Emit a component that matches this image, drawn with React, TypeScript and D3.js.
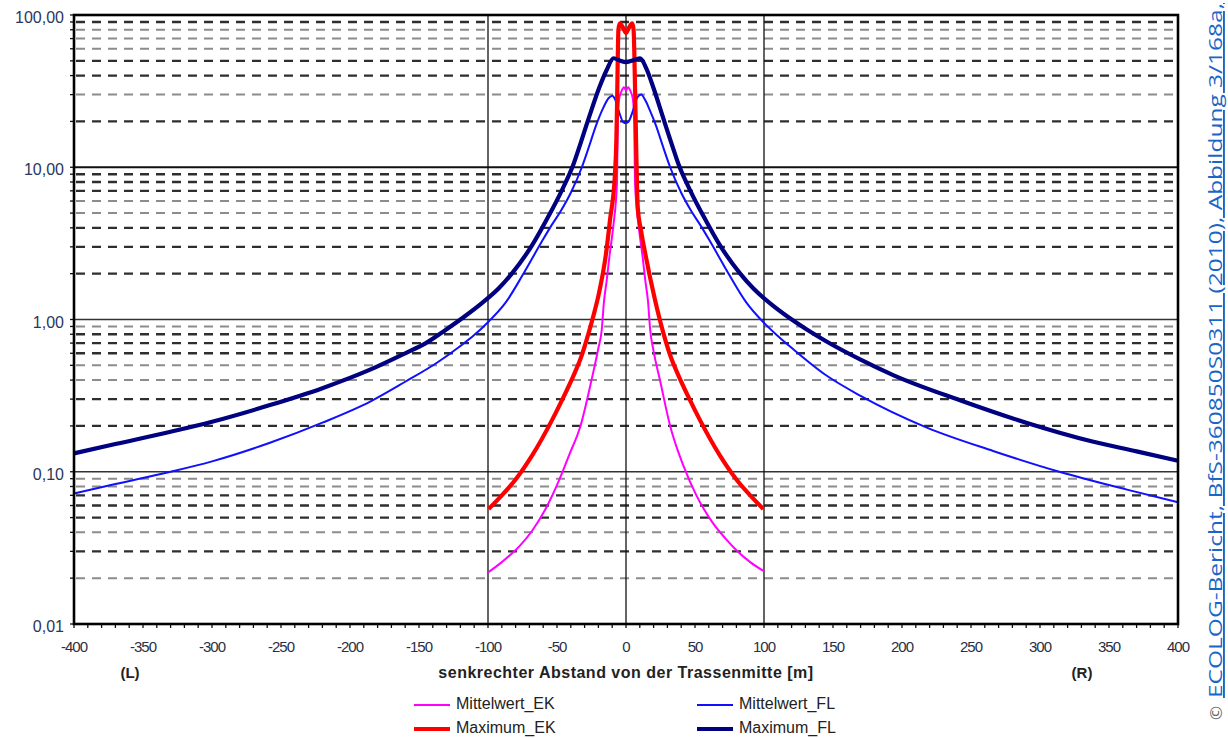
// log chart of field strength vs distance from the line axis
import { useEffect, useRef } from 'react';
import * as d3 from 'd3';

// distances [m] and values for each series
const mwFlX = [-400, -370, -330, -300, -258, -220, -185, -160, -137, -120, -110, -100, -87, -75, -61, -54, -47.6, -40, -32, -27, -22, -17, -12.5, -10, -8, -5, -2, 0, 2, 5, 8, 11, 14, 17, 22, 27, 32, 40, 47.6, 54, 61, 75, 87, 100, 110, 121, 145, 170, 218, 266, 314, 363, 400];
const mwFlY = [0.072, 0.083, 0.1, 0.117, 0.155, 0.21, 0.29, 0.39, 0.52, 0.67, 0.79, 0.96, 1.3, 1.95, 3.25, 4.15, 5.1, 6.8, 10, 13.5, 18.5, 24, 28.5, 29.5, 28, 23, 19.8, 19.5, 20, 23.5, 28.5, 30, 27.5, 24, 18.5, 13.5, 10, 6.8, 5.1, 4.15, 3.25, 1.95, 1.3, 0.95, 0.78, 0.64, 0.43, 0.315, 0.195, 0.137, 0.1, 0.0763, 0.063];

const maxFlX = [-400, -370, -330, -300, -258, -220, -185, -160, -145, -131, -118, -104, -92, -82.6, -68, -56, -47, -38, -33, -27, -19, -14, -9, -4, 0, 4, 10, 15, 20, 27, 33, 38, 47, 56, 68, 82.6, 92, 104, 118, 131, 145, 170, 194, 242, 290, 338, 370, 400];
const maxFlY = [0.132, 0.152, 0.183, 0.213, 0.274, 0.354, 0.47, 0.6, 0.7, 0.85, 1.03, 1.29, 1.61, 2.01, 3.08, 4.8, 6.9, 10.5, 14.3, 21, 34, 43.5, 52, 50, 49, 50, 52, 44, 33, 21, 14.3, 10.5, 6.9, 4.8, 3.08, 2.01, 1.61, 1.285, 1.03, 0.86, 0.72, 0.545, 0.43, 0.295, 0.21, 0.158, 0.136, 0.118];

const mwEkX = [-100, -90, -77, -68, -58.7, -48, -41, -33, -25, -20, -17.6, -16, -14, -12, -9.2, -6.5, -6, -5, -3, -1.5, 0, 1.5, 3, 5, 6, 6.5, 9.2, 12, 14, 16, 17.5, 20, 24.6, 32, 41.5, 51, 63, 72, 80, 90, 100];
const mwEkY = [0.0218, 0.0255, 0.0326, 0.041, 0.056, 0.09, 0.13, 0.2, 0.4, 0.65, 0.85, 1.3, 1.8, 2.6, 4.1, 8, 19, 28, 32, 33.5, 32, 33.5, 32, 28, 19, 8, 4.1, 2.6, 1.8, 1.3, 0.86, 0.62, 0.4, 0.2, 0.11, 0.07, 0.046, 0.0365, 0.0305, 0.0255, 0.0222];

const maxEkX = [-99.5, -90, -80, -68, -54, -46, -37, -33, -27, -23.7, -19.5, -14.5, -11.6, -8, -7, -6.5, -6, -5.5, -4.5, -2, 0, 2, 4.5, 5.5, 6.5, 7.5, 8.5, 11, 14, 21, 27, 33, 37, 46, 54, 68, 80, 90, 99.5];
const maxEkY = [0.057, 0.07, 0.089, 0.128, 0.215, 0.3, 0.45, 0.55, 0.82, 1.05, 1.5, 2.7, 4.5, 9, 15, 25, 50, 80, 88, 82, 76, 82, 88, 80, 35, 12, 5.5, 3.8, 2.7, 1.35, 0.82, 0.55, 0.45, 0.3, 0.215, 0.128, 0.089, 0.07, 0.057];

const yMajor = [0.01, 0.1, 1, 10, 100];
const yLabels = ['0,01', '0,10', '1,00', '10,00', '100,00'];
const xLabels = [-400, -350, -300, -250, -200, -150, -100, -50, 0, 50, 100, 150, 200, 250, 300, 350, 400];
const xMajorGrid = [-100, 0, 100];
// dark (d) or grey (g) dashes for the minor lines 2..9 of each decade
const minorTone = ['gdgdddgg', 'ddggdddg', 'dddggddd', 'dgddgggd'];

const series = [
  { name: 'Mittelwert_EK', xs: mwEkX, ys: mwEkY, color: '#ff00ff', width: 2 },
  { name: 'Mittelwert_FL', xs: mwFlX, ys: mwFlY, color: '#1010ff', width: 2 },
  { name: 'Maximum_EK', xs: maxEkX, ys: maxEkY, color: '#ff0000', width: 4.2 },
  { name: 'Maximum_FL', xs: maxFlX, ys: maxFlY, color: '#000080', width: 4.2 },
];

const font = 'Liberation Sans, Arial, sans-serif';

function App() {
  const ref = useRef<SVGSVGElement | null>(null);

  useEffect(() => {
    const svg = d3.select(ref.current);
    svg.selectAll('*').remove();

    const x = d3.scaleLinear().domain([-400, 400]).range([74, 1178]);
    const y = d3.scaleLog().domain([0.01, 100]).range([624, 15]);
    const [x0, x1] = x.range();

    // minor dashed grid
    const minors: { v: number; tone: string }[] = [];
    yMajor.slice(0, 4).forEach((dec, i) => {
      for (let m = 2; m <= 9; m++) minors.push({ v: dec * m, tone: minorTone[i][m - 2] });
    });
    svg.append('g').selectAll('line').data(minors).enter().append('line')
      .attr('x1', x0 + 2).attr('x2', x1 - 2)
      .attr('y1', d => y(d.v)).attr('y2', d => y(d.v))
      .attr('stroke', d => d.tone === 'd' ? '#2e2e2e' : '#8c8c8c')
      .attr('stroke-width', d => d.tone === 'd' ? 2.4 : 2)
      .attr('stroke-dasharray', '9,7');

    // major grid
    svg.append('g').selectAll('line').data(yMajor.slice(1, 4)).enter().append('line')
      .attr('x1', x0).attr('x2', x1)
      .attr('y1', d => y(d)).attr('y2', d => y(d))
      .attr('stroke', d => d === 10 ? '#111' : '#333')
      .attr('stroke-width', d => d === 10 ? 2.2 : 1.6);
    svg.append('g').selectAll('line').data(xMajorGrid).enter().append('line')
      .attr('x1', d => x(d)).attr('x2', d => x(d))
      .attr('y1', y(100)).attr('y2', y(0.01))
      .attr('stroke', '#111').attr('stroke-width', 1.3);

    // ticks
    const yTicks = minors.map(d => d.v).concat(yMajor);
    svg.append('g').selectAll('line').data(yTicks).enter().append('line')
      .attr('x1', x0 - 4).attr('x2', x0)
      .attr('y1', d => y(d)).attr('y2', d => y(d))
      .attr('stroke', '#111').attr('stroke-width', 1.3);
    svg.append('g').selectAll('line').data(d3.range(-400, 401, 10)).enter().append('line')
      .attr('x1', d => x(d)).attr('x2', d => x(d))
      .attr('y1', y(0.01)).attr('y2', y(0.01) + 4)
      .attr('stroke', '#111').attr('stroke-width', 1.3);

    // curves
    const line = d3.line<[number, number]>()
      .x(d => x(d[0])).y(d => y(d[1]))
      .curve(d3.curveMonotoneX);
    series.forEach(s => {
      svg.append('path')
        .attr('d', line(s.xs.map((v, i) => [v, s.ys[i]] as [number, number])))
        .attr('fill', 'none')
        .attr('stroke', s.color)
        .attr('stroke-width', s.width)
        .attr('stroke-linejoin', 'round');
    });

    // frame
    svg.append('rect')
      .attr('x', x0).attr('y', y(100))
      .attr('width', x1 - x0).attr('height', y(0.01) - y(100))
      .attr('fill', 'none').attr('stroke', '#000').attr('stroke-width', 2.6);

    // y labels
    svg.append('g').selectAll('text').data(yMajor).enter().append('text')
      .attr('x', 64).attr('y', d => y(d) + 4)
      .attr('text-anchor', 'end').attr('dominant-baseline', 'middle')
      .style('font-family', font).style('font-size', '16px')
      .attr('fill', '#2a3760')
      .text((d, i) => yLabels[i]);

    // x labels
    svg.append('g').selectAll('text').data(xLabels).enter().append('text')
      .attr('x', d => x(d)).attr('y', 652)
      .attr('text-anchor', 'middle')
      .style('font-family', font).style('font-size', '15px')
      .style('letter-spacing', '-1px')
      .attr('fill', '#2a2f45')
      .text(d => String(d));

    const txt = (tx: number, ty: number, s: string, size: number, weight: string) =>
      svg.append('text').attr('x', tx).attr('y', ty)
        .attr('text-anchor', 'middle')
        .style('font-family', font).style('font-size', size + 'px')
        .style('font-weight', weight)
        .attr('fill', '#222')
        .text(s);
    txt(130, 678, '(L)', 15, 'bold');
    txt(1082, 678, '(R)', 15, 'bold');
    txt(626, 678, 'senkrechter Abstand von der Trassenmitte [m]', 16, 'bold')
      .style('letter-spacing', '0.5px');

    // legend
    series.forEach((s, i) => {
      const lx = i % 2 === 0 ? 414 : 697;
      const ly = i < 2 ? 705 : 729;
      svg.append('line')
        .attr('x1', lx).attr('x2', lx + 36).attr('y1', ly).attr('y2', ly)
        .attr('stroke', s.color).attr('stroke-width', s.width);
      svg.append('text')
        .attr('x', lx + 42).attr('y', ly)
        .attr('dominant-baseline', 'middle')
        .style('font-family', font).style('font-size', '16px')
        .attr('fill', '#222')
        .text(s.name);
    });

    // source note, rotated
    const note = svg.append('g').attr('transform', 'translate(1222,698) rotate(-90)');
    note.append('text')
      .attr('x', 0).attr('y', 0)
      .attr('textLength', 695).attr('lengthAdjust', 'spacingAndGlyphs')
      .style('font-family', 'Open Sans, sans-serif').style('font-size', '19px')
      .style('text-decoration', 'underline')
      .attr('fill', '#1a66c6')
      .text('ECOLOG-Bericht, BfS-360850S0311 (2010), Abbildung 3/168a,');
    note.append('text')
      .attr('x', -22).attr('y', 0)
      .style('font-family', 'Open Sans, sans-serif').style('font-size', '17px')
      .attr('fill', '#666')
      .text('©');
  }, []);

  return (
    <svg ref={ref} width={1228} height={738}
      style={{ position: 'absolute', left: 0, top: 0, background: '#fff' }} />
  );
}

export default App;
